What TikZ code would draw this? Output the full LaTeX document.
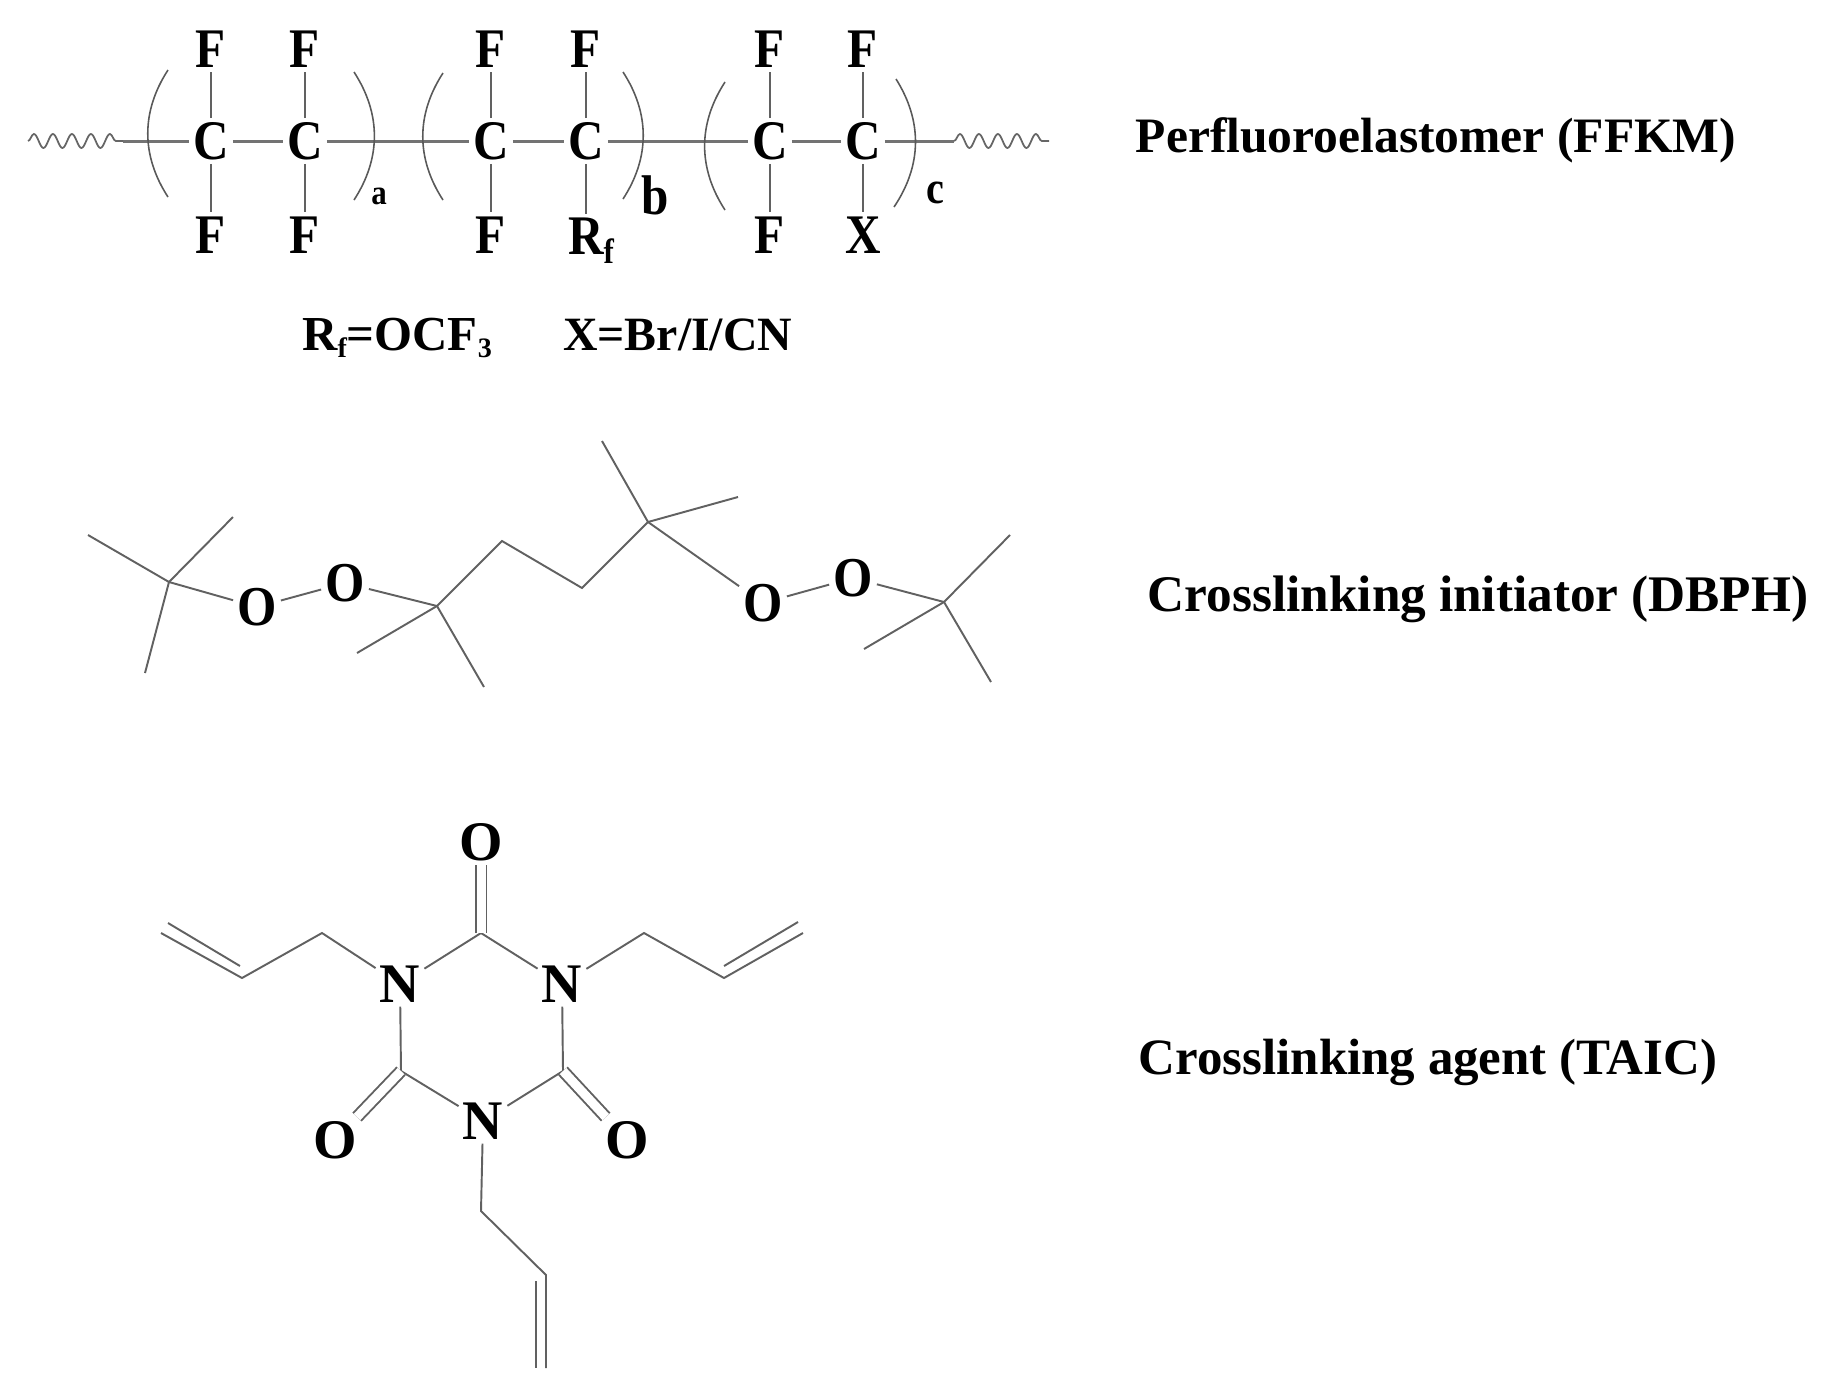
\documentclass[tikz,border=0pt]{standalone}
\usepackage{fontspec}
\setmainfont{Liberation Serif}
\newfontfamily\condfont[FakeStretch=0.88]{Liberation Serif}
\newfontfamily\oxyfont[FakeStretch=0.9]{Liberation Serif}
\usetikzlibrary{decorations.pathmorphing}
\tikzset{atom/.style = {font=\fontsize{15.9}{16}\selectfont\condfont\bfseries, inner sep = 1pt}}
\tikzset{ringatom/.style = {font=\fontsize{15.9}{16}\selectfont\bfseries, inner sep = 1pt}}
\tikzset{oxy/.style = {font=\fontsize{16}{16}\selectfont\oxyfont\bfseries, inner sep = 1pt}}
\tikzset{bond/.style = {line width = 0.55pt, black!62}}
\tikzset{chain/.style = {line width = 0.85pt, black!55}}
\tikzset{dbond/.style = {line width = 0.55pt, black!62, double, double distance = 0.09cm}}
\tikzset{bracket/.style = {line width = 0.45pt, black!65}}
\tikzset{wavy/.style = {line width = 0.5pt, black!60, decorate,
                        decoration={snake, amplitude = 0.07cm, segment length = 0.19cm}}}
\tikzset{caption/.style = {font=\fontsize{14.5}{16}\selectfont\bfseries, inner sep = 0, anchor = base west}}
\newcommand{\subtxt}[2]{\raisebox{-0.35ex}{\fontsize{#1}{#1}\selectfont #2}}
\begin{document}
\begin{tikzpicture}
    \useasboundingbox (0, 0) rectangle (18.22, -13.94);

    \node [atom] (ca) at (2.11, -1.41) {C};
    \node [atom] (cb) at (3.05, -1.41) {C};
    \node [atom] (cc) at (4.91, -1.41) {C};
    \node [atom] (cd) at (5.86, -1.41) {C};
    \node [atom] (ce) at (7.70, -1.41) {C};
    \node [atom] (cf) at (8.63, -1.41) {C};

    \node [atom] (fa) at (2.11, -0.49) {F};
    \node [atom] (fb) at (3.05, -0.49) {F};
    \node [atom] (fc) at (4.91, -0.49) {F};
    \node [atom] (fd) at (5.86, -0.49) {F};
    \node [atom] (fe) at (7.70, -0.49) {F};
    \node [atom] (ff) at (8.63, -0.49) {F};

    \node [atom] (ga) at (2.11, -2.35) {F};
    \node [atom] (gb) at (3.05, -2.35) {F};
    \node [atom] (gc) at (4.91, -2.35) {F};
    \node [atom] (rf) at (5.91, -2.41) {R\subtxt{10}{f}};
    \node [atom] (ge) at (7.70, -2.35) {F};
    \node [atom] (xx) at (8.63, -2.35) {X};

    \draw [bond] (ca) -- (fa);
    \draw [bond] (cb) -- (fb);
    \draw [bond] (cc) -- (fc);
    \draw [bond] (cd) -- (fd);
    \draw [bond] (ce) -- (fe);
    \draw [bond] (cf) -- (ff);
    \draw [bond] (ca) -- (ga);
    \draw [bond] (cb) -- (gb);
    \draw [bond] (cc) -- (gc);
    \draw [bond] (cd) -- (cd |- rf.north);
    \draw [bond] (ce) -- (ge);
    \draw [bond] (cf) -- (xx);

    \coordinate (wl) at (1.23, -1.41);
    \coordinate (wr) at (9.54, -1.41);
    \coordinate (wa) at (0.28, -1.41);
    \coordinate (wb) at (10.49, -1.41);
    \draw [chain] (wl) -- (ca);
    \draw [chain] (ca) -- (cb);
    \draw [chain] (cb) -- (cc);
    \draw [chain] (cc) -- (cd);
    \draw [chain] (cd) -- (ce);
    \draw [chain] (ce) -- (cf);
    \draw [chain] (cf) -- (wr);
    \draw [wavy] (wa) -- (wl);
    \draw [wavy] (wr) -- (wb);

    \draw [bracket] (1.68, -0.70) to [bend right=33] (1.68, -1.97);
    \draw [bracket] (3.54, -0.72) to [bend left=33] (3.54, -2.00);
    \draw [bracket] (4.43, -0.73) to [bend right=33] (4.43, -2.00);
    \draw [bracket] (6.23, -0.72) to [bend left=33] (6.23, -1.99);
    \draw [bracket] (7.25, -0.82) to [bend right=33] (7.25, -2.10);
    \draw [bracket] (8.96, -0.79) to [bend left=33] (8.94, -2.07);

    \node [atom, font=\fontsize{10}{10}\selectfont\condfont\bfseries] (la) at (3.79, -1.96) {a};
    \node [atom] (lb) at (6.55, -1.95) {b};
    \node [atom, font=\fontsize{13}{13}\selectfont\condfont\bfseries] (lc) at (9.35, -1.93) {c};

    \node [ringatom, font=\fontsize{13.9}{14}\selectfont\bfseries, anchor=base west] (rdef) at (2.98, -3.50) {R\subtxt{8}{f}=OCF\subtxt{8}{3}};
    \node [ringatom, font=\fontsize{13.6}{14}\selectfont\bfseries, anchor=base west] (xdef) at (5.59, -3.50) {X=Br/I/CN};

    \node [caption, font=\fontsize{14.1}{16}\selectfont\bfseries] (lffkm) at (11.35, -1.52) {Perfluoroelastomer (FFKM)};
    \node [caption, font=\fontsize{14.6}{16}\selectfont\bfseries] (ldbph) at (11.47, -6.11) {Crosslinking initiator (DBPH)};
    \node [caption] (ltaic) at (11.38, -10.74) {Crosslinking agent (TAIC)};

    \coordinate (ta) at (1.69, -5.82);
    \coordinate (tb) at (4.37, -6.06);
    \coordinate (tc) at (5.02, -5.41);
    \coordinate (td) at (5.82, -5.88);
    \coordinate (te) at (6.48, -5.22);
    \coordinate (tf) at (9.44, -6.02);
    \node [oxy] (oa) at (2.57, -6.07) {O};
    \node [oxy] (ob) at (3.45, -5.83) {O};
    \node [oxy] (oc) at (7.63, -6.03) {O};
    \node [oxy] (od) at (8.53, -5.78) {O};

    \coordinate (ea) at (0.88, -5.35);
    \coordinate (eb) at (2.33, -5.17);
    \coordinate (ec) at (1.45, -6.73);
    \coordinate (ed) at (3.57, -6.53);
    \coordinate (ee) at (4.84, -6.87);
    \coordinate (ef) at (6.02, -4.41);
    \coordinate (eg) at (7.38, -4.97);
    \coordinate (eh) at (10.10, -5.35);
    \coordinate (ei) at (8.64, -6.49);
    \coordinate (ej) at (9.91, -6.82);

    \draw [bond] (ea) -- (ta);
    \draw [bond] (eb) -- (ta);
    \draw [bond] (ec) -- (ta);
    \draw [bond] (ta) -- (oa);
    \draw [bond] (oa) -- (ob);
    \draw [bond] (ob) -- (tb);
    \draw [bond] (ed) -- (tb);
    \draw [bond] (ee) -- (tb);
    \draw [bond] (tb) -- (tc) -- (td) -- (te);
    \draw [bond] (ef) -- (te);
    \draw [bond] (eg) -- (te);
    \draw [bond] (te) -- (oc);
    \draw [bond] (oc) -- (od);
    \draw [bond] (od) -- (tf);
    \draw [bond] (eh) -- (tf);
    \draw [bond] (ei) -- (tf);
    \draw [bond] (ej) -- (tf);

    \coordinate (ra) at (4.81, -9.33);
    \coordinate (rb) at (4.01, -10.71);
    \coordinate (rc) at (5.63, -10.71);
    \node [ringatom] (na) at (4.00, -9.84) {N};
    \node [ringatom] (nb) at (5.62, -9.84) {N};
    \node [ringatom] (nc) at (4.83, -11.21) {N};
    \node [ringatom] (otop) at (4.81, -8.42) {O};
    \node [ringatom] (oleft) at (3.35, -11.40) {O};
    \node [ringatom] (oright) at (6.27, -11.40) {O};

    \draw [bond] (na) -- (ra);
    \draw [bond] (ra) -- (nb);
    \draw [bond] (nb) -- (rc);
    \draw [bond] (rc) -- (nc);
    \draw [bond] (nc) -- (rb);
    \draw [bond] (rb) -- (na);
    \draw [dbond] (ra) -- (otop);
    \draw [dbond] (rb) -- (oleft);
    \draw [dbond] (rc) -- (oright);

    \coordinate (aa) at (3.22, -9.33);
    \coordinate (ab) at (2.42, -9.78);
    \coordinate (ac) at (1.61, -9.33);
    \coordinate (ad) at (2.40, -9.66);
    \coordinate (ae) at (1.68, -9.23);
    \draw [bond] (na) -- (aa) -- (ab) -- (ac);
    \draw [bond] (ad) -- (ae);

    \coordinate (ba) at (6.44, -9.33);
    \coordinate (bb) at (7.24, -9.78);
    \coordinate (bc) at (8.03, -9.33);
    \coordinate (bd) at (7.24, -9.66);
    \coordinate (be) at (7.98, -9.22);
    \draw [bond] (nb) -- (ba) -- (bb) -- (bc);
    \draw [bond] (bd) -- (be);

    \coordinate (da) at (4.81, -12.11);
    \coordinate (db) at (5.46, -12.75);
    \coordinate (dc) at (5.46, -13.68);
    \coordinate (dd) at (5.36, -12.81);
    \coordinate (de) at (5.36, -13.68);
    \draw [bond] (nc) -- (da) -- (db) -- (dc);
    \draw [bond] (dd) -- (de);
  \end{tikzpicture}
\end{document}
